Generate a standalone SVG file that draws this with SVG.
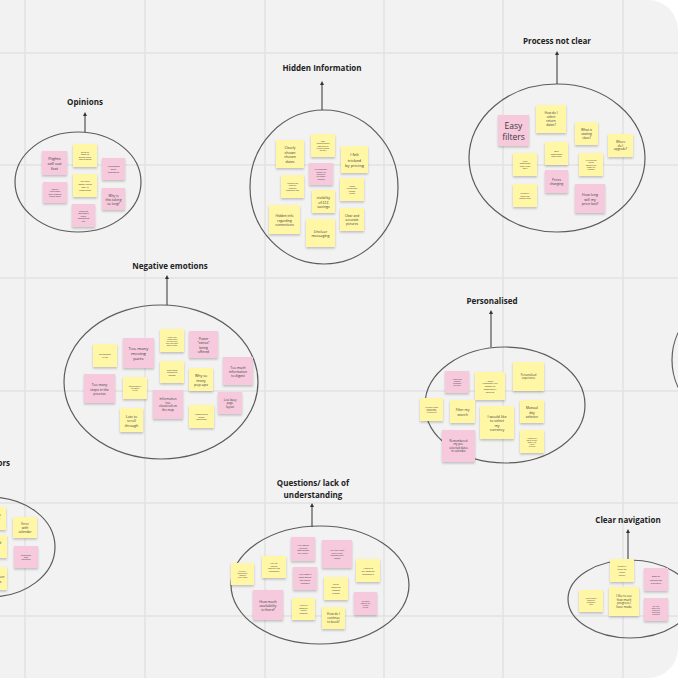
<svg xmlns="http://www.w3.org/2000/svg" width="678" height="678" viewBox="0 0 678 678">
<style>
.bg{fill:#f2f2f2}
.grid{stroke:#e2e2e2;stroke-width:1.5}
.cl{fill:none;stroke:#5c5c5c;stroke-width:1.2}
.ar{stroke:#333;stroke-width:1}
.ttl{font-family:"Open Sans","Liberation Sans",sans-serif;font-weight:bold;font-size:8px;fill:#222;text-anchor:middle}
.y{fill:#fff6a6}
.p{fill:#f6c9dc}
.nt{font-family:"Open Sans","Liberation Sans",sans-serif;fill:#3a3a3a;text-anchor:middle;dominant-baseline:central}
.note rect{filter:url(#sh)}
</style>
<defs>
<filter id="sh" x="-20%" y="-20%" width="140%" height="150%"><feDropShadow dx="0" dy="1.5" stdDeviation="1" flood-color="#000" flood-opacity="0.22"/></filter>
<marker id="ah" viewBox="0 0 6 6" refX="3" refY="3" markerWidth="4" markerHeight="4" orient="auto"><path d="M0,0 L6,3 L0,6 Z" fill="#333"/></marker>
<clipPath id="frame"><path d="M0,0 H648 A30,30 0 0 1 678,30 V648 A30,30 0 0 1 648,678 H0 Z"/></clipPath>
</defs>
<rect width="678" height="678" fill="#ffffff"/>
<g clip-path="url(#frame)">
<rect class="bg" width="678" height="678"/>
<g id="grid">
<line class="grid" x1="25" y1="0" x2="25" y2="678"/>
<line class="grid" x1="145" y1="0" x2="145" y2="678"/>
<line class="grid" x1="265" y1="0" x2="265" y2="678"/>
<line class="grid" x1="384" y1="0" x2="384" y2="678"/>
<line class="grid" x1="503" y1="0" x2="503" y2="678"/>
<line class="grid" x1="623" y1="0" x2="623" y2="678"/>
<line class="grid" x1="0" y1="53" x2="678" y2="53"/>
<line class="grid" x1="0" y1="165" x2="678" y2="165"/>
<line class="grid" x1="0" y1="278" x2="678" y2="278"/>
<line class="grid" x1="0" y1="391" x2="678" y2="391"/>
<line class="grid" x1="0" y1="503" x2="678" y2="503"/>
<line class="grid" x1="0" y1="616" x2="678" y2="616"/>
</g>

<g id="clusters">
<ellipse class="cl" cx="78" cy="182" rx="63" ry="50"/>
<ellipse class="cl" cx="324" cy="187" rx="74" ry="77"/>
<ellipse class="cl" cx="557" cy="158" rx="88" ry="74"/>
<ellipse class="cl" cx="161" cy="382" rx="97" ry="77"/>
<ellipse class="cl" cx="505" cy="405" rx="80" ry="58"/>
<ellipse class="cl" cx="320" cy="585" rx="89" ry="59"/>
<ellipse class="cl" cx="630" cy="599" rx="62" ry="39"/>
<ellipse class="cl" cx="-10" cy="547" rx="65" ry="50"/>
<ellipse class="cl" cx="750" cy="360" rx="78" ry="70"/>
</g>

<g id="connectors">
<line class="ar" x1="85" y1="132" x2="85" y2="114" marker-end="url(#ah)"/>
<line class="ar" x1="322" y1="110" x2="322" y2="83" marker-end="url(#ah)"/>
<line class="ar" x1="557" y1="84" x2="557" y2="53" marker-end="url(#ah)"/>
<line class="ar" x1="167" y1="305" x2="167" y2="277" marker-end="url(#ah)"/>
<line class="ar" x1="491" y1="347" x2="491" y2="312" marker-end="url(#ah)"/>
<line class="ar" x1="312" y1="527" x2="312" y2="505" marker-end="url(#ah)"/>
<line class="ar" x1="628" y1="560" x2="628" y2="531" marker-end="url(#ah)"/>
</g>

<g id="titles">
<text class="ttl" x="85" y="105">Opinions</text>
<text class="ttl" x="322" y="71">Hidden Information</text>
<text class="ttl" x="557" y="44">Process not clear</text>
<text class="ttl" x="170" y="269">Negative emotions</text>
<text class="ttl" x="492" y="304">Personalised</text>
<text class="ttl" x="313" y="486">Questions/ lack of</text>
<text class="ttl" x="313" y="498">understanding</text>
<text class="ttl" x="628" y="523">Clear navigation</text>
<text class="ttl" x="10" y="466" style="text-anchor:end">Errors</text>
</g>

<!-- Opinions -->
<g id="op1" class="note"><rect class="p" x="42" y="151" width="25" height="24"/><text class="nt" x="54.5" y="163" font-size="4.2"><tspan x="54.5" dy="-1.25em">Flights</tspan><tspan x="54.5" dy="1.25em">sell out</tspan><tspan x="54.5" dy="1.25em">fast</tspan></text></g>
<g id="op2" class="note"><rect class="y" x="73" y="144" width="24" height="23"/><text class="nt" x="85" y="155.5" font-size="2"><tspan x="85" dy="-1.875em">Ok to be</tspan><tspan x="85" dy="1.25em">aware of</tspan><tspan x="85" dy="1.25em">specific travel</tspan><tspan x="85" dy="1.25em">requirements</tspan></text></g>
<g id="op3" class="note"><rect class="p" x="102" y="158" width="23" height="22"/><text class="nt" x="113.5" y="169" font-size="2.3"><tspan x="113.5" dy="-1.25em">Animations</tspan><tspan x="113.5" dy="1.25em">were</tspan><tspan x="113.5" dy="1.25em">distracting</tspan></text></g>
<g id="op4" class="note"><rect class="p" x="43" y="182" width="24" height="21"/><text class="nt" x="55" y="192.5" font-size="2"><tspan x="55" dy="-1.875em">Overall</tspan><tspan x="55" dy="1.25em">experience</tspan><tspan x="55" dy="1.25em">while booking</tspan><tspan x="55" dy="1.25em">flights: good</tspan></text></g>
<g id="op5" class="note"><rect class="y" x="73" y="174" width="24" height="23"/><text class="nt" x="85" y="185.5" font-size="2.2"><tspan x="85" dy="-1.875em">"No flight"</tspan><tspan x="85" dy="1.25em">doesn't seem</tspan><tspan x="85" dy="1.25em">easy to</tspan><tspan x="85" dy="1.25em">understand</tspan></text></g>
<g id="op6" class="note"><rect class="p" x="102" y="188" width="23" height="22"/><text class="nt" x="113.5" y="199" font-size="3.3"><tspan x="113.5" dy="-1.25em">Why is</tspan><tspan x="113.5" dy="1.25em">this taking</tspan><tspan x="113.5" dy="1.25em">so long?</tspan></text></g>
<g id="op7" class="note"><rect class="p" x="72" y="204" width="23" height="23"/><text class="nt" x="83.5" y="215.5" font-size="2"><tspan x="83.5" dy="-2.5em">Travelling</tspan><tspan x="83.5" dy="1.25em">was always</tspan><tspan x="83.5" dy="1.25em">super</tspan><tspan x="83.5" dy="1.25em">confusing to</tspan><tspan x="83.5" dy="1.25em">me</tspan></text></g>

<!-- Hidden Information -->
<g id="hi1" class="note"><rect class="y" x="276" y="140" width="28" height="28"/><text class="nt" x="290" y="154" font-size="3.5"><tspan x="290" dy="-1.875em">Clearly</tspan><tspan x="290" dy="1.25em">shown</tspan><tspan x="290" dy="1.25em">chosen</tspan><tspan x="290" dy="1.25em">dates</tspan></text></g>
<g id="hi2" class="note"><rect class="y" x="311" y="134" width="24" height="23"/><text class="nt" x="323" y="145.5" font-size="1.9"><tspan x="323" dy="-2.5em">Seek</tspan><tspan x="323" dy="1.25em">understanding</tspan><tspan x="323" dy="1.25em">difference in</tspan><tspan x="323" dy="1.25em">pricing (based</tspan><tspan x="323" dy="1.25em">on day)</tspan></text></g>
<g id="hi3" class="note"><rect class="y" x="341" y="146" width="27" height="27"/><text class="nt" x="354.5" y="159.5" font-size="4.2"><tspan x="354.5" dy="-1.25em">I felt</tspan><tspan x="354.5" dy="1.25em">tricked</tspan><tspan x="354.5" dy="1.25em">by pricing</tspan></text></g>
<g id="hi4" class="note"><rect class="p" x="309" y="163" width="24" height="22"/><text class="nt" x="321" y="174" font-size="1.9"><tspan x="321" dy="-2.5em">Is it absolutely</tspan><tspan x="321" dy="1.25em">certain I'm</tspan><tspan x="321" dy="1.25em">staying in</tspan><tspan x="321" dy="1.25em">the hotel?</tspan><tspan x="321" dy="1.25em">(images)</tspan></text></g>
<g id="hi5" class="note"><rect class="y" x="281" y="175" width="23" height="23"/><text class="nt" x="292.5" y="186.5" font-size="1.9"><tspan x="292.5" dy="-1.875em">Wording not</tspan><tspan x="292.5" dy="1.25em">clear for</tspan><tspan x="292.5" dy="1.25em">entering</tspan><tspan x="292.5" dy="1.25em">passenger info</tspan></text></g>
<g id="hi6" class="note"><rect class="y" x="340" y="178" width="24" height="23"/><text class="nt" x="352" y="189.5" font-size="2"><tspan x="352" dy="-1.875em">Added</tspan><tspan x="352" dy="1.25em">extras with</tspan><tspan x="352" dy="1.25em">hidden</tspan><tspan x="352" dy="1.25em">prices</tspan></text></g>
<g id="hi7" class="note"><rect class="y" x="312" y="190" width="23" height="23"/><text class="nt" x="323.5" y="201.5" font-size="3.6"><tspan x="323.5" dy="-1.25em">visibility</tspan><tspan x="323.5" dy="1.25em">of £££</tspan><tspan x="323.5" dy="1.25em">savings</tspan></text></g>
<g id="hi8" class="note"><rect class="y" x="269" y="205" width="31" height="29"/><text class="nt" x="284.5" y="219.5" font-size="3.3"><tspan x="284.5" dy="-1.25em">Hidden info</tspan><tspan x="284.5" dy="1.25em">regarding</tspan><tspan x="284.5" dy="1.25em">connections</tspan></text></g>
<g id="hi9" class="note"><rect class="y" x="340" y="208" width="24" height="23"/><text class="nt" x="352" y="219.5" font-size="3.2"><tspan x="352" dy="-1.25em">Clear and</tspan><tspan x="352" dy="1.25em">accurate</tspan><tspan x="352" dy="1.25em">pictures</tspan></text></g>
<g id="hi10" class="note"><rect class="y" x="306" y="219" width="29" height="28"/><text class="nt" x="320.5" y="233" font-size="3.7"><tspan x="320.5" dy="-0.625em">Unclear</tspan><tspan x="320.5" dy="1.25em">messaging</tspan></text></g>

<!-- Process not clear -->
<g id="pr1" class="note"><rect class="p" x="498" y="115" width="31" height="31"/><text class="nt" x="513.5" y="130.5" font-size="8.5"><tspan x="513.5" dy="-0.625em">Easy</tspan><tspan x="513.5" dy="1.25em">filters</tspan></text></g>
<g id="pr2" class="note"><rect class="y" x="536" y="105" width="30" height="28"/><text class="nt" x="551" y="119" font-size="3.2"><tspan x="551" dy="-1.875em">How do I</tspan><tspan x="551" dy="1.25em">select</tspan><tspan x="551" dy="1.25em">return</tspan><tspan x="551" dy="1.25em">dates?</tspan></text></g>
<g id="pr3" class="note"><rect class="y" x="575" y="122" width="23" height="23"/><text class="nt" x="586.5" y="133.5" font-size="3.2"><tspan x="586.5" dy="-1.25em">What is</tspan><tspan x="586.5" dy="1.25em">seating</tspan><tspan x="586.5" dy="1.25em">class?</tspan></text></g>
<g id="pr4" class="note"><rect class="y" x="608" y="134" width="25" height="23"/><text class="nt" x="620.5" y="145.5" font-size="3"><tspan x="620.5" dy="-1.25em">Where</tspan><tspan x="620.5" dy="1.25em">do I</tspan><tspan x="620.5" dy="1.25em">upgrade?</tspan></text></g>
<g id="pr5" class="note"><rect class="y" x="545" y="142" width="23" height="23"/><text class="nt" x="556.5" y="153.5" font-size="2"><tspan x="556.5" dy="-1.25em">Over</tspan><tspan x="556.5" dy="1.25em">complicated</tspan><tspan x="556.5" dy="1.25em">date picker</tspan></text></g>
<g id="pr6" class="note"><rect class="y" x="513" y="153" width="24" height="23"/><text class="nt" x="525" y="164.5" font-size="2"><tspan x="525" dy="-1.875em">Price</tspan><tspan x="525" dy="1.25em">differences</tspan><tspan x="525" dy="1.25em">aren't clear</tspan><tspan x="525" dy="1.25em">why?</tspan></text></g>
<g id="pr7" class="note"><rect class="y" x="579" y="153" width="24" height="23"/><text class="nt" x="591" y="164.5" font-size="1.8"><tspan x="591" dy="-2.5em">I'd like to see</tspan><tspan x="591" dy="1.25em">prices</tspan><tspan x="591" dy="1.25em">whether the</tspan><tspan x="591" dy="1.25em">dates I've</tspan><tspan x="591" dy="1.25em">selected</tspan></text></g>
<g id="pr8" class="note"><rect class="p" x="545" y="170" width="23" height="23"/><text class="nt" x="556.5" y="181.5" font-size="3.2"><tspan x="556.5" dy="-0.625em">Prices</tspan><tspan x="556.5" dy="1.25em">changing</tspan></text></g>
<g id="pr9" class="note"><rect class="y" x="513" y="184" width="24" height="23"/><text class="nt" x="525" y="195.5" font-size="2.2"><tspan x="525" dy="-1.25em">Difficulty</tspan><tspan x="525" dy="1.25em">selecting</tspan><tspan x="525" dy="1.25em">departures</tspan></text></g>
<g id="pr10" class="note"><rect class="p" x="575" y="184" width="30" height="29"/><text class="nt" x="590" y="198.5" font-size="3.6"><tspan x="590" dy="-1.25em">How long</tspan><tspan x="590" dy="1.25em">will my</tspan><tspan x="590" dy="1.25em">price last?</tspan></text></g>

<!-- Negative emotions -->
<g id="ne1" class="note"><rect class="y" x="93" y="344" width="24" height="23"/><text class="nt" x="105" y="355.5" font-size="1.8"><tspan x="105" dy="-0.625em">Overwhelmed</tspan><tspan x="105" dy="1.25em">by info</tspan></text></g>
<g id="ne2" class="note"><rect class="p" x="123" y="338" width="31" height="30"/><text class="nt" x="138.5" y="353" font-size="4.3"><tspan x="138.5" dy="-1.25em">Too many</tspan><tspan x="138.5" dy="1.25em">moving</tspan><tspan x="138.5" dy="1.25em">parts</tspan></text></g>
<g id="ne3" class="note"><rect class="y" x="160" y="329" width="24" height="23"/><text class="nt" x="172" y="340.5" font-size="1.6"><tspan x="172" dy="-2.5em">I wasn't sure</tspan><tspan x="172" dy="1.25em">if website was</tspan><tspan x="172" dy="1.25em">for flights and</tspan><tspan x="172" dy="1.25em">what hotel were</tspan><tspan x="172" dy="1.25em">bought as well</tspan></text></g>
<g id="ne4" class="note"><rect class="p" x="189" y="331" width="29" height="27"/><text class="nt" x="203.5" y="344.5" font-size="3.3"><tspan x="203.5" dy="-1.875em">Power</tspan><tspan x="203.5" dy="1.25em">"extras"</tspan><tspan x="203.5" dy="1.25em">being</tspan><tspan x="203.5" dy="1.25em">offered</tspan></text></g>
<g id="ne5" class="note"><rect class="p" x="223" y="357" width="30" height="28"/><text class="nt" x="238" y="371" font-size="3.3"><tspan x="238" dy="-1.25em">Too much</tspan><tspan x="238" dy="1.25em">information</tspan><tspan x="238" dy="1.25em">to digest</tspan></text></g>
<g id="ne6" class="note"><rect class="y" x="160" y="361" width="24" height="22"/><text class="nt" x="172" y="372" font-size="2"><tspan x="172" dy="-1.25em">Don't show</tspan><tspan x="172" dy="1.25em">unavailable</tspan><tspan x="172" dy="1.25em">options</tspan></text></g>
<g id="ne7" class="note"><rect class="y" x="189" y="368" width="24" height="23"/><text class="nt" x="201" y="379.5" font-size="3.6"><tspan x="201" dy="-1.25em">Why so</tspan><tspan x="201" dy="1.25em">many</tspan><tspan x="201" dy="1.25em">pop-ups</tspan></text></g>
<g id="ne8" class="note"><rect class="p" x="84" y="374" width="31" height="29"/><text class="nt" x="99.5" y="388.5" font-size="3.4"><tspan x="99.5" dy="-1.25em">Too many</tspan><tspan x="99.5" dy="1.25em">steps in the</tspan><tspan x="99.5" dy="1.25em">process</tspan></text></g>
<g id="ne9" class="note"><rect class="y" x="123" y="377" width="24" height="22"/><text class="nt" x="135" y="388" font-size="1.6"><tspan x="135" dy="-1.25em">Overwhelmed by</tspan><tspan x="135" dy="1.25em">the amount</tspan><tspan x="135" dy="1.25em">of info</tspan></text></g>
<g id="ne10" class="note"><rect class="p" x="153" y="390" width="30" height="29"/><text class="nt" x="168" y="404.5" font-size="3.1"><tspan x="168" dy="-1.875em">Information</tspan><tspan x="168" dy="1.25em">too</tspan><tspan x="168" dy="1.25em">clustered on</tspan><tspan x="168" dy="1.25em">the map</tspan></text></g>
<g id="ne11" class="note"><rect class="p" x="218" y="392" width="24" height="22"/><text class="nt" x="230" y="403" font-size="2.8"><tspan x="230" dy="-1.25em">Less busy</tspan><tspan x="230" dy="1.25em">page</tspan><tspan x="230" dy="1.25em">layout</tspan></text></g>
<g id="ne12" class="note"><rect class="y" x="120" y="408" width="23" height="24"/><text class="nt" x="131.5" y="420" font-size="3.6"><tspan x="131.5" dy="-1.25em">Lots to</tspan><tspan x="131.5" dy="1.25em">scroll</tspan><tspan x="131.5" dy="1.25em">through</tspan></text></g>
<g id="ne13" class="note"><rect class="y" x="189" y="405" width="25" height="23"/><text class="nt" x="201.5" y="416.5" font-size="2.2"><tspan x="201.5" dy="-1.25em">Complicated</tspan><tspan x="201.5" dy="1.25em">layout</tspan><tspan x="201.5" dy="1.25em">(confused)</tspan></text></g>

<!-- Personalised -->
<g id="pe1" class="note"><rect class="p" x="445" y="371" width="24" height="22"/><text class="nt" x="457" y="382" font-size="1.7"><tspan x="457" dy="-1.875em">A open date</tspan><tspan x="457" dy="1.25em">selector</tspan><tspan x="457" dy="1.25em">suggested</tspan><tspan x="457" dy="1.25em">on Flight</tspan></text></g>
<g id="pe2" class="note"><rect class="y" x="475" y="372" width="30" height="28"/><text class="nt" x="490" y="386" font-size="2.2"><tspan x="490" dy="-2.5em">I didn't</tspan><tspan x="490" dy="1.25em">remember the</tspan><tspan x="490" dy="1.25em">amount of</tspan><tspan x="490" dy="1.25em">passengers I</tspan><tspan x="490" dy="1.25em">selected</tspan></text></g>
<g id="pe3" class="note"><rect class="y" x="513" y="362" width="31" height="29"/><text class="nt" x="528.5" y="376.5" font-size="2.6"><tspan x="528.5" dy="-0.625em">Personalised</tspan><tspan x="528.5" dy="1.25em">experience</tspan></text></g>
<g id="pe4" class="note"><rect class="y" x="420" y="398" width="23" height="23"/><text class="nt" x="431.5" y="409.5" font-size="1.5"><tspan x="431.5" dy="-1.875em">I did want to know</tspan><tspan x="431.5" dy="1.25em">which airport</tspan><tspan x="431.5" dy="1.25em">(suitable, and)</tspan><tspan x="431.5" dy="1.25em">is travelling to</tspan></text></g>
<g id="pe5" class="note"><rect class="y" x="450" y="400" width="25" height="23"/><text class="nt" x="462.5" y="411.5" font-size="3.4"><tspan x="462.5" dy="-0.625em">Filter my</tspan><tspan x="462.5" dy="1.25em">search</tspan></text></g>
<g id="pe6" class="note"><rect class="y" x="480" y="406" width="34" height="33"/><text class="nt" x="497" y="422.5" font-size="3.6"><tspan x="497" dy="-1.875em">I would like</tspan><tspan x="497" dy="1.25em">to select</tspan><tspan x="497" dy="1.25em">my</tspan><tspan x="497" dy="1.25em">currency</tspan></text></g>
<g id="pe7" class="note"><rect class="y" x="520" y="400" width="24" height="23"/><text class="nt" x="532" y="411.5" font-size="3.4"><tspan x="532" dy="-1.25em">Manual</tspan><tspan x="532" dy="1.25em">day</tspan><tspan x="532" dy="1.25em">selector</tspan></text></g>
<g id="pe8" class="note"><rect class="p" x="442" y="430" width="33" height="32"/><text class="nt" x="458.5" y="446" font-size="2.8"><tspan x="458.5" dy="-1.875em">Remembered</tspan><tspan x="458.5" dy="1.25em">my pre-</tspan><tspan x="458.5" dy="1.25em">selected dates</tspan><tspan x="458.5" dy="1.25em">in calendar</tspan></text></g>
<g id="pe9" class="note"><rect class="y" x="520" y="430" width="24" height="23"/><text class="nt" x="532" y="441.5" font-size="1.6"><tspan x="532" dy="-2.5em">Automatically</tspan><tspan x="532" dy="1.25em">switch to next</tspan><tspan x="532" dy="1.25em">month if no</tspan><tspan x="532" dy="1.25em">flights</tspan><tspan x="532" dy="1.25em">available</tspan></text></g>

<!-- Questions / lack of understanding -->
<g id="qu1" class="note"><rect class="y" x="231" y="563" width="23" height="22"/><text class="nt" x="242.5" y="574" font-size="1.6"><tspan x="242.5" dy="-1.875em">Why can't I</tspan><tspan x="242.5" dy="1.25em">continue with</tspan><tspan x="242.5" dy="1.25em">booking?</tspan><tspan x="242.5" dy="1.25em">(extra pages)</tspan></text></g>
<g id="qu2" class="note"><rect class="y" x="262" y="556" width="24" height="22"/><text class="nt" x="274" y="567" font-size="1.9"><tspan x="274" dy="-1.875em">Why do I</tspan><tspan x="274" dy="1.25em">have to</tspan><tspan x="274" dy="1.25em">manually add</tspan><tspan x="274" dy="1.25em">credentials?</tspan></text></g>
<g id="qu3" class="note"><rect class="p" x="291" y="537" width="24" height="24"/><text class="nt" x="303" y="549" font-size="2.2"><tspan x="303" dy="-1.875em">Why would</tspan><tspan x="303" dy="1.25em">I pick my</tspan><tspan x="303" dy="1.25em">food before</tspan><tspan x="303" dy="1.25em">my flight?</tspan></text></g>
<g id="qu4" class="note"><rect class="p" x="322" y="540" width="30" height="28"/><text class="nt" x="337" y="554" font-size="2.2"><tspan x="337" dy="-1.875em">Why do I have</tspan><tspan x="337" dy="1.25em">to fill in my</tspan><tspan x="337" dy="1.25em">info multiple</tspan><tspan x="337" dy="1.25em">times?</tspan></text></g>
<g id="qu5" class="note"><rect class="y" x="356" y="559" width="24" height="23"/><text class="nt" x="368" y="570.5" font-size="2.4"><tspan x="368" dy="-1.25em">Where is</tspan><tspan x="368" dy="1.25em">my booking</tspan><tspan x="368" dy="1.25em">summary?</tspan></text></g>
<g id="qu6" class="note"><rect class="p" x="293" y="567" width="24" height="23"/><text class="nt" x="305" y="578.5" font-size="2.3"><tspan x="305" dy="-1.875em">Why does it</tspan><tspan x="305" dy="1.25em">keep asking</tspan><tspan x="305" dy="1.25em">me about</tspan><tspan x="305" dy="1.25em">luggage?</tspan></text></g>
<g id="qu7" class="note"><rect class="y" x="324" y="577" width="24" height="23"/><text class="nt" x="336" y="588.5" font-size="2.3"><tspan x="336" dy="-1.875em">Relax</tspan><tspan x="336" dy="1.25em">offers so</tspan><tspan x="336" dy="1.25em">chosen</tspan><tspan x="336" dy="1.25em">airport</tspan></text></g>
<g id="qu8" class="note"><rect class="p" x="253" y="590" width="30" height="30"/><text class="nt" x="268" y="605" font-size="3.5"><tspan x="268" dy="-1.25em">How much</tspan><tspan x="268" dy="1.25em">availability</tspan><tspan x="268" dy="1.25em">is there?</tspan></text></g>
<g id="qu9" class="note"><rect class="y" x="292" y="598" width="23" height="22"/><text class="nt" x="303.5" y="609" font-size="2.2"><tspan x="303.5" dy="-1.875em">Have all</tspan><tspan x="303.5" dy="1.25em">possible</tspan><tspan x="303.5" dy="1.25em">flights</tspan><tspan x="303.5" dy="1.25em">loaded?</tspan></text></g>
<g id="qu10" class="note"><rect class="p" x="354" y="592" width="23" height="23"/><text class="nt" x="365.5" y="603.5" font-size="1.6"><tspan x="365.5" dy="-1.875em">I'm unsure</tspan><tspan x="365.5" dy="1.25em">how will they</tspan><tspan x="365.5" dy="1.25em">fill seat?</tspan><tspan x="365.5" dy="1.25em">(or tips)</tspan></text></g>
<g id="qu11" class="note"><rect class="y" x="322" y="607" width="23" height="22"/><text class="nt" x="333.5" y="618" font-size="3.1"><tspan x="333.5" dy="-1.25em">How do I</tspan><tspan x="333.5" dy="1.25em">continue</tspan><tspan x="333.5" dy="1.25em">to book?</tspan></text></g>

<!-- Clear navigation -->
<g id="cn1" class="note"><rect class="y" x="610" y="559" width="24" height="23"/><text class="nt" x="622" y="570.5" font-size="2.2"><tspan x="622" dy="-1.875em">Difficulty</tspan><tspan x="622" dy="1.25em">selecting</tspan><tspan x="622" dy="1.25em">"direct</tspan><tspan x="622" dy="1.25em">flights"</tspan></text></g>
<g id="cn2" class="note"><rect class="p" x="644" y="568" width="24" height="23"/><text class="nt" x="656" y="579.5" font-size="2.5"><tspan x="656" dy="-1.25em">Ease of</tspan><tspan x="656" dy="1.25em">navigation</tspan><tspan x="656" dy="1.25em">is priority</tspan></text></g>
<g id="cn3" class="note"><rect class="y" x="579" y="590" width="24" height="22"/><text class="nt" x="591" y="601" font-size="1.6"><tspan x="591" dy="-1.875em">I want to select</tspan><tspan x="591" dy="1.25em">amount of</tspan><tspan x="591" dy="1.25em">passengers</tspan><tspan x="591" dy="1.25em">faster</tspan></text></g>
<g id="cn4" class="note"><rect class="y" x="609" y="587" width="30" height="29"/><text class="nt" x="624" y="601.5" font-size="3"><tspan x="624" dy="-1.875em">I like to see</tspan><tspan x="624" dy="1.25em">how much</tspan><tspan x="624" dy="1.25em">progress I</tspan><tspan x="624" dy="1.25em">have made</tspan></text></g>
<g id="cn5" class="note"><rect class="p" x="644" y="598" width="24" height="23"/><text class="nt" x="656" y="609.5" font-size="1.6"><tspan x="656" dy="-2.5em">Not clear</tspan><tspan x="656" dy="1.25em">which flight</tspan><tspan x="656" dy="1.25em">selected is</tspan><tspan x="656" dy="1.25em">inbound or</tspan><tspan x="656" dy="1.25em">outbound</tspan></text></g>

<!-- Errors -->
<g id="er1" class="note"><rect class="y" x="-18" y="507" width="24" height="23"/><text class="nt" x="-6" y="518.5" font-size="2.6"><tspan x="-6" dy="-1.25em">Unavailable</tspan><tspan x="-6" dy="1.25em">date error</tspan><tspan x="-6" dy="1.25em">on first</tspan></text></g>
<g id="er2" class="note"><rect class="y" x="13" y="517" width="24" height="21"/><text class="nt" x="25" y="527.5" font-size="3.2"><tspan x="25" dy="-1.25em">Error</tspan><tspan x="25" dy="1.25em">with</tspan><tspan x="25" dy="1.25em">calendar</tspan></text></g>
<g id="er3" class="note"><rect class="y" x="-17" y="535" width="24" height="23"/><text class="nt" x="-5" y="546.5" font-size="3.2"><tspan x="-5" dy="-1.25em">Crashed</tspan><tspan x="-5" dy="1.25em">on</tspan><tspan x="-5" dy="1.25em">site</tspan></text></g>
<g id="er4" class="note"><rect class="p" x="14" y="546" width="24" height="22"/><text class="nt" x="26" y="557" font-size="1.9"><tspan x="26" dy="-1.25em">Sometimes</tspan><tspan x="26" dy="1.25em">poor</tspan><tspan x="26" dy="1.25em">navigation</tspan></text></g>
<g id="er5" class="note"><rect class="y" x="-17" y="567" width="24" height="23"/><text class="nt" x="-5" y="578.5" font-size="3.6"><tspan x="-5" dy="-0.625em">Application</tspan><tspan x="-5" dy="1.25em">crashes</tspan></text></g>
</g>
</svg>
